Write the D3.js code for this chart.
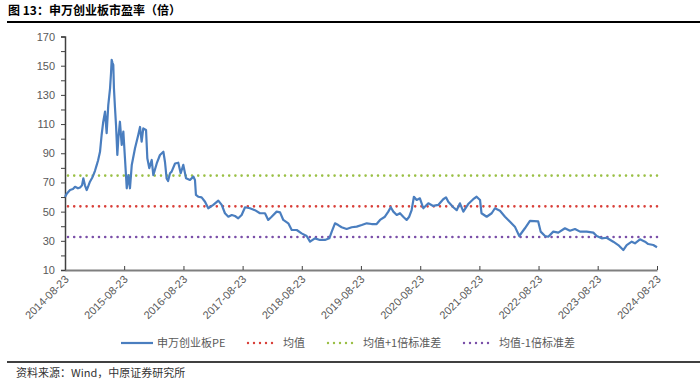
<!DOCTYPE html>
<html lang="zh">
<head>
<meta charset="UTF-8">
<title>申万创业板市盈率</title>
<script src="https://d3js.org/d3.v7.min.js"></script>
<style>
    body { margin: 0; background: #fff; }
    svg { display: block; font-family: "Liberation Sans", Arial, sans-serif; }
    .cn { font-family: "Noto Sans CJK SC", sans-serif; }
    .axis text { fill: #595959; font-size: 11px; }
</style>
</head>
<body>
<svg width="700" height="382"></svg>
<script>
// 日期 / 市盈率(倍)，从原图读取的近似值
const dates = [
    "2014-08-23","2014-09-04","2014-09-23","2014-10-11","2014-10-24","2014-11-11","2014-11-24","2014-12-06",
    "2014-12-14","2014-12-24","2015-01-04","2015-01-12","2015-01-24","2015-02-06","2015-02-14","2015-02-24",
    "2015-03-07","2015-03-15","2015-03-27","2015-04-06","2015-04-16","2015-04-27","2015-05-07","2015-05-17",
    "2015-05-28","2015-06-03","2015-06-07","2015-06-12","2015-06-17","2015-06-21","2015-06-27","2015-07-04",
    "2015-07-12","2015-07-18","2015-07-28","2015-08-08","2015-08-18","2015-08-28","2015-09-08","2015-09-18",
    "2015-09-28","2015-10-09","2015-10-29","2015-11-18","2015-11-29","2015-12-09","2015-12-19","2016-01-05",
    "2016-01-13","2016-01-25","2016-02-09","2016-02-19","2016-03-11","2016-03-31","2016-04-21","2016-05-01",
    "2016-05-11","2016-05-20","2016-06-01","2016-06-11","2016-07-02","2016-07-22","2016-08-06","2016-08-22",
    "2016-09-08","2016-10-02","2016-10-23","2016-11-02","2016-11-08","2016-11-22","2016-12-13","2017-01-03",
    "2017-01-23","2017-02-23","2017-03-26","2017-04-16","2017-05-06","2017-05-27","2017-06-17","2017-07-07",
    "2017-07-27","2017-08-17","2017-09-07","2017-10-07","2017-11-07","2017-12-08","2018-01-08","2018-01-28",
    "2018-02-18","2018-03-21","2018-04-11","2018-05-01","2018-06-01","2018-06-22","2018-07-23","2018-08-22",
    "2018-09-22","2018-10-13","2018-11-12","2018-12-13","2019-01-13","2019-02-09","2019-02-24","2019-03-16",
    "2019-04-05","2019-04-26","2019-05-27","2019-06-27","2019-07-28","2019-08-28","2019-09-28","2019-10-28",
    "2019-11-28","2019-12-19","2020-01-18","2020-02-08","2020-02-23","2020-03-10","2020-03-31","2020-04-20",
    "2020-05-10","2020-05-31","2020-06-16","2020-07-01","2020-07-15","2020-08-01","2020-08-21","2020-09-11",
    "2020-10-12","2020-11-11","2020-12-12","2021-01-12","2021-01-29","2021-02-12","2021-03-15","2021-04-05",
    "2021-04-25","2021-05-16","2021-06-15","2021-07-16","2021-08-06","2021-08-27","2021-09-05","2021-10-07",
    "2021-11-07","2021-11-27","2021-12-28","2022-01-28","2022-02-28","2022-03-30","2022-04-26","2022-05-31",
    "2022-07-01","2022-08-21","2022-09-05","2022-10-02","2022-10-22","2022-11-22","2022-12-23","2023-02-02",
    "2023-03-05","2023-04-05","2023-05-06","2023-06-16","2023-07-27","2023-08-17","2023-09-17","2023-10-17",
    "2023-11-27","2023-12-28","2024-01-28","2024-02-18","2024-03-20","2024-04-09","2024-05-10","2024-06-10",
    "2024-06-30","2024-07-31","2024-08-23"
];
const pe = [
    60, 62.5, 64.8, 65.5, 67, 66, 66.5, 68,
    72.8, 68, 64.8, 67, 70.5, 73, 75, 78,
    82, 85, 91, 102.5, 111.6, 118.5, 103.7, 123,
    134.5, 145, 154, 152, 150.5, 134.5, 122, 109,
    88.8, 100, 111.6, 95.7, 104.8, 86.6, 66, 75,
    66, 82, 93.4, 102.5, 108, 98, 107, 106,
    86.6, 79.8, 85.4, 75, 83, 88.8, 91, 84,
    72.8, 71, 76.3, 77.4, 83, 83.5, 76.3, 82,
    72.8, 71.7, 74, 71.7, 61.4, 60.2, 59.8, 56.8,
    52.3, 54.6, 57.5, 54.6, 48.9, 46.5, 47.7, 47,
    45.4, 47.7, 53, 52.3, 51, 48.9, 48.9, 44.3,
    46.5, 50, 49.5, 44.3, 42, 37.4, 37.4, 35.1,
    33.3, 29.4, 31.7, 30.6, 30.6, 31.7, 36.3, 42,
    40.8, 39.3, 38.1, 39.3, 39.7, 40.8, 42, 41.5,
    41.5, 44.3, 46.5, 50, 53, 50, 47.7, 48.9,
    46.5, 44.3, 46.5, 51, 60.2, 58, 59.1, 52.3,
    55.7, 53.9, 54.6, 58.5, 59.8, 56.8, 53, 51,
    55.7, 50, 55.2, 58.5, 60.2, 58, 48.9, 46.5,
    48.9, 52.3, 50.6, 46.5, 43, 39.7, 33.3, 38.6,
    43.6, 43.3, 36.3, 33.3, 32.8, 36.3, 35.6, 38.6,
    36.9, 38.1, 36.3, 36.3, 35.6, 33.3, 31.7, 32.1,
    29.4, 27.1, 23.7, 27.1, 29.4, 28.3, 31, 29.4,
    27.8, 27.1, 25.6
];
const meanPE = 53.6;
const upperPE = 74.7;
const lowerPE = 32.6;
const xTicks = ["2014-08-23","2015-08-23","2016-08-23","2017-08-23","2018-08-23","2019-08-23",
                "2020-08-23","2021-08-23","2022-08-23","2023-08-23","2024-08-23"];
const yTickLabels = [10, 30, 50, 70, 90, 110, 130, 150, 170];
const seriesNames = ["申万创业板PE", "均值", "均值+1倍标准差", "均值-1倍标准差"];
const colors = ["#4A7EBF", "#D9403A", "#9BC046", "#7A4FA8"];

const parse = d3.timeParse("%Y-%m-%d");
const data = dates.map((d, i) => ({date: parse(d), v: pe[i]}));

const svg = d3.select("svg");
const x = d3.scaleTime().domain([parse(xTicks[0]), parse(xTicks[xTicks.length - 1])]).range([65, 657]);
const y = d3.scaleLinear().domain([10, 170]).range([270, 36.5]);

// 标题
svg.append("text").attr("class", "cn").attr("x", 8).attr("y", 15)
    .attr("font-size", 12).attr("font-weight", "bold").attr("fill", "#000")
    .text("图 13：申万创业板市盈率（倍）");
svg.append("line").attr("x1", 7).attr("x2", 700).attr("y1", 22).attr("y2", 22)
    .attr("stroke", "#000").attr("stroke-width", 2);

// y轴（每10一个刻度，每20一个标签）
const yAxis = svg.append("g").attr("class", "axis").attr("transform", "translate(65,0)")
    .call(d3.axisLeft(y).tickValues(d3.range(10, 171, 10)).tickSize(4).tickPadding(6)
        .tickFormat(d => yTickLabels.includes(d) ? d : ""));
yAxis.select(".domain").attr("stroke", "#404040").attr("stroke-width", 1.5);
yAxis.selectAll(".tick line").attr("stroke", "#404040");

// x轴
const xAxis = svg.append("g").attr("class", "axis").attr("transform", "translate(0,270)")
    .call(d3.axisBottom(x).tickValues(xTicks.map(parse)).tickSizeInner(-4).tickSizeOuter(0)
        .tickFormat(d3.timeFormat("%Y-%m-%d")));
xAxis.select(".domain").attr("stroke", "#7f7f7f").attr("stroke-width", 2);
xAxis.selectAll(".tick line").attr("stroke", "#404040");
xAxis.selectAll(".tick text")
    .attr("text-anchor", "end")
    .attr("dx", 4).attr("dy", 12)
    .attr("transform", "rotate(-45)")
    .attr("font-size", 10.5);
xAxis.selectAll(".tick text").attr("transform", "translate(4,10) rotate(-45)").attr("dx", 0).attr("dy", 0)
    .attr("y", 0).attr("x", 0);

// 均值线
const refs = [meanPE, upperPE, lowerPE];
svg.selectAll("line.ref").data(refs).enter().append("line")
    .attr("class", "ref")
    .attr("x1", x.range()[0] + 3).attr("x2", x.range()[1])
    .attr("y1", d => y(d)).attr("y2", d => y(d))
    .attr("stroke", (d, i) => colors[i + 1])
    .attr("stroke-width", 2.6)
    .attr("stroke-linecap", "round")
    .attr("stroke-dasharray", "0,6.2");

// PE 线
const line = d3.line().x(d => x(d.date)).y(d => y(d.v));
svg.append("path").datum(data)
    .attr("d", line)
    .attr("fill", "none")
    .attr("stroke", colors[0])
    .attr("stroke-width", 2.2)
    .attr("stroke-linejoin", "round");

// 图例
const legendX = [121, 247, 327, 463];
const lg = svg.append("g").attr("transform", "translate(0,343)");
seriesNames.forEach((name, i) => {
    const g = lg.append("g").attr("transform", `translate(${legendX[i]},0)`);
    if (i === 0) {
        g.append("line").attr("x1", 0).attr("x2", 32).attr("stroke", colors[0]).attr("stroke-width", 2.2);
    } else {
        g.append("line").attr("x1", 1).attr("x2", 31).attr("stroke", colors[i])
            .attr("stroke-width", 2.4).attr("stroke-linecap", "round").attr("stroke-dasharray", "0,6");
    }
    g.append("text").attr("class", "cn").attr("x", i === 0 ? 36 : 36)
        .attr("dy", "0.35em").attr("font-size", 11).attr("fill", "#595959").text(name);
});

// 来源
svg.append("line").attr("x1", 7).attr("x2", 700).attr("y1", 362).attr("y2", 362)
    .attr("stroke", "#000").attr("stroke-width", 1.5);
svg.append("text").attr("class", "cn").attr("x", 16).attr("y", 377)
    .attr("font-size", 11).attr("fill", "#333").text("资料来源：Wind，中原证券研究所");
</script>
</body>
</html>
